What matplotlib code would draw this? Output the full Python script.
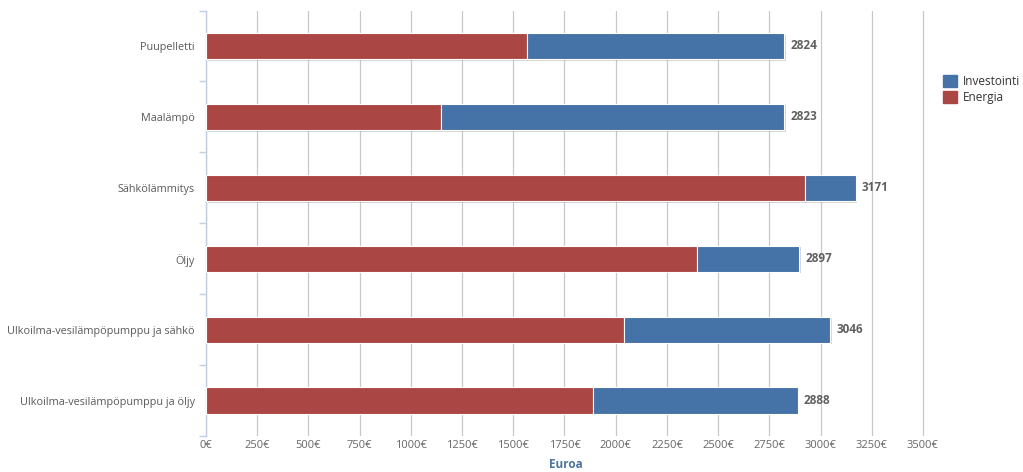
import numpy as np
import matplotlib
matplotlib.use("Agg")
import matplotlib.pyplot as plt
import matplotlib.patheffects as pe

categories = ["Puupelletti", "Maalämpö", "Sähkölämmitys", "Öljy",
              "Ulkoilma-vesilämpöpumppu ja sähkö", "Ulkoilma-vesilämpöpumppu ja öljy"]
energia = [1567, 1147, 2923, 2396, 2040, 1887]
totals = [2824, 2823, 3171, 2897, 3046, 2888]
investointi = [t - e for t, e in zip(totals, energia)]
xticks = list(range(0, 3501, 250))

RED = "#AA4643"
BLUE = "#4572A7"

plt.rcParams["font.family"] = ["Open Sans", "DejaVu Sans"]

fig = plt.figure(figsize=(10.23, 4.72), dpi=100)
ax = fig.add_axes([206 / 1023, 1 - 436 / 472, (925 - 206) / 1023, (436 - 10.5) / 472])

y = np.arange(len(categories))
shadow = [pe.SimplePatchShadow(offset=(1.2, -1.2), shadow_rgbFace="#888888", alpha=0.35), pe.Normal()]

b1 = ax.barh(y, energia, height=0.37, color=RED, edgecolor="white", linewidth=0.8, zorder=3)
b2 = ax.barh(y, investointi, left=energia, height=0.37, color=BLUE, edgecolor="white",
             linewidth=0.8, zorder=3)
for b in list(b1) + list(b2):
    b.set_path_effects(shadow)

# summa palkin perään
for yi, t in zip(y, totals):
    ax.text(t + 30, yi, str(t), va="center", ha="left", fontsize=8.5, color="#606060",
            fontweight="bold", zorder=4)

ax.set_xlim(0, 3510)
ax.set_ylim(len(categories) - 0.5, -0.5)
ax.set_xticks(xticks)
ax.set_xticklabels([f"{v}€" for v in xticks])
ax.set_yticks(y)
ax.set_yticklabels(categories)
ax.set_yticks(np.arange(len(categories) + 1) - 0.5, minor=True)

ax.grid(axis="x", color="#C8C8C8", linewidth=0.9, zorder=0)
ax.set_axisbelow(True)
for s in ["top", "right", "bottom"]:
    ax.spines[s].set_visible(False)
ax.spines["left"].set_color("#C0D0E0")
ax.spines["left"].set_linewidth(1)

ax.tick_params(axis="x", length=0, pad=3, labelsize=8, labelcolor="#666666")
ax.tick_params(axis="y", which="major", length=0, pad=8, labelsize=7.8, labelcolor="#5a5a5a")
ax.tick_params(axis="y", which="minor", length=5, color="#C0D0E0", width=1)

ax.set_xlabel("Euroa", fontsize=8.5, fontweight="bold", color="#4D759E", labelpad=5)

# legend
h1 = plt.Rectangle((0, 0), 1, 1, color=BLUE)
h2 = plt.Rectangle((0, 0), 1, 1, color=RED)
leg = fig.legend([h1, h2], ["Investointi", "Energia"], loc="upper left",
                 bbox_to_anchor=(932 / 1023, 1 - 64 / 472), frameon=False,
                 fontsize=8.5, handlelength=1.2, handleheight=1.2, handletextpad=0.5,
                 labelspacing=0.25)
for t in leg.get_texts():
    t.set_color("#333333")

fig.savefig("out.png", dpi=100)
